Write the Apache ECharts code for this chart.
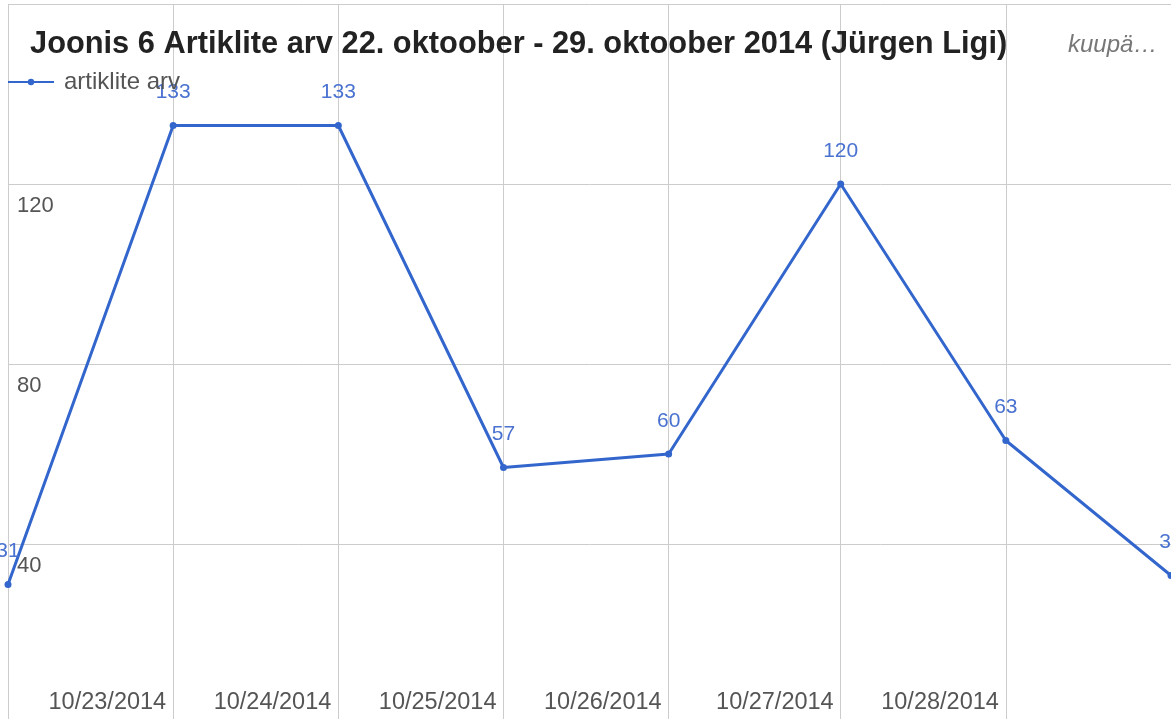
<!DOCTYPE html>
<html>
<head>
<meta charset="utf-8">
<script src="https://cdn.jsdelivr.net/npm/echarts@6/dist/echarts.min.js"></script>
<style>
html,body{margin:0;padding:0;background:#fff;}
#chart{width:1171px;height:719px;}
</style>
</head>
<body>
<div id="chart"></div>
<script>
// Data (local Estonian time; DST ends 26 Oct 2014)
var dates = [
  '2014-10-22T00:00:00+03:00',
  '2014-10-23T00:00:00+03:00',
  '2014-10-24T00:00:00+03:00',
  '2014-10-25T00:00:00+03:00',
  '2014-10-26T00:00:00+03:00',
  '2014-10-27T00:00:00+02:00',
  '2014-10-28T00:00:00+02:00',
  '2014-10-29T00:00:00+02:00'
];
var values = [31, 133, 133, 57, 60, 120, 63, 33];
var xTickLabels = ['', '10/23/2014', '10/24/2014', '10/25/2014', '10/26/2014', '10/27/2014', '10/28/2014', ''];
var yTicks = [40, 80, 120];
var seriesName = 'artiklite arv';
var titleText = 'Joonis 6 Artiklite arv 22. oktoober - 29. oktoober 2014 (Jürgen Ligi)';
var axisTitleText = 'kuupä…';

var times = dates.map(function (d) { return Date.parse(d); });
var labelTimes = times.filter(function (t, i) { return xTickLabels[i] !== ''; });
var seriesData = times.map(function (t, i) { return [t, values[i]]; });

var FONT = '"Liberation Sans", Arial, sans-serif';
var chart = echarts.init(document.getElementById('chart'), null, {renderer: 'canvas'});
chart.setOption({
  animation: false,
  backgroundColor: '#fff',
  title: {
    text: titleText,
    left: 25, top: 24,
    textStyle: {fontFamily: FONT, fontSize: 30.8, fontWeight: 'bold', color: '#222'}
  },
  graphic: [{
    type: 'text', left: 1068, top: 33,
    style: {text: axisTitleText, font: 'italic 24px "Liberation Sans", Arial, sans-serif', fill: '#777'}
  }],
  legend: {
    data: [seriesName],
    left: 2, top: 65,
    itemWidth: 46, itemHeight: 8,
    textStyle: {fontFamily: FONT, fontSize: 24, color: '#555', padding: [0, 0, 0, 5]}
  },
  grid: {left: 8, right: 0, top: 4, height: 720, containLabel: false, outerBoundsMode: 'none'},
  xAxis: {
    type: 'value',
    min: times[0], max: times[times.length - 1],
    axisLine: {show: false},
    axisTick: {show: false, customValues: times},
    splitLine: {show: true, lineStyle: {color: '#cccccc', width: 1}},
    axisLabel: {
      inside: true, margin: 9, align: 'right', padding: [0, 7, 0, 0],
      customValues: labelTimes,
      fontFamily: FONT, fontSize: 23.5, color: '#555',
      formatter: function (v) {
        var i = times.indexOf(v);
        return i >= 0 ? xTickLabels[i] : '';
      }
    }
  },
  yAxis: {
    type: 'value', min: 0, max: 160, interval: 40,
    axisLine: {show: false},
    axisTick: {show: false},
    splitLine: {show: true, lineStyle: {color: '#cccccc', width: 1}},
    axisLabel: {
      inside: true, margin: 9, verticalAlign: 'top', padding: [11, 0, 0, 0],
      customValues: yTicks,
      fontFamily: FONT, fontSize: 22, color: '#555'
    }
  },
  series: [{
    name: seriesName,
    type: 'line',
    data: seriesData,
    color: '#3366cc',
    lineStyle: {width: 3, color: '#3366cc'},
    symbol: 'circle', symbolSize: 7,
    itemStyle: {color: '#3366cc'},
    clip: false,
    label: {
      show: true, position: 'top', distance: 19,
      fontFamily: FONT, fontSize: 21, color: '#4a72d0',
      formatter: function (p) { return p.value[1]; }
    }
  }]
});
</script>
</body>
</html>
